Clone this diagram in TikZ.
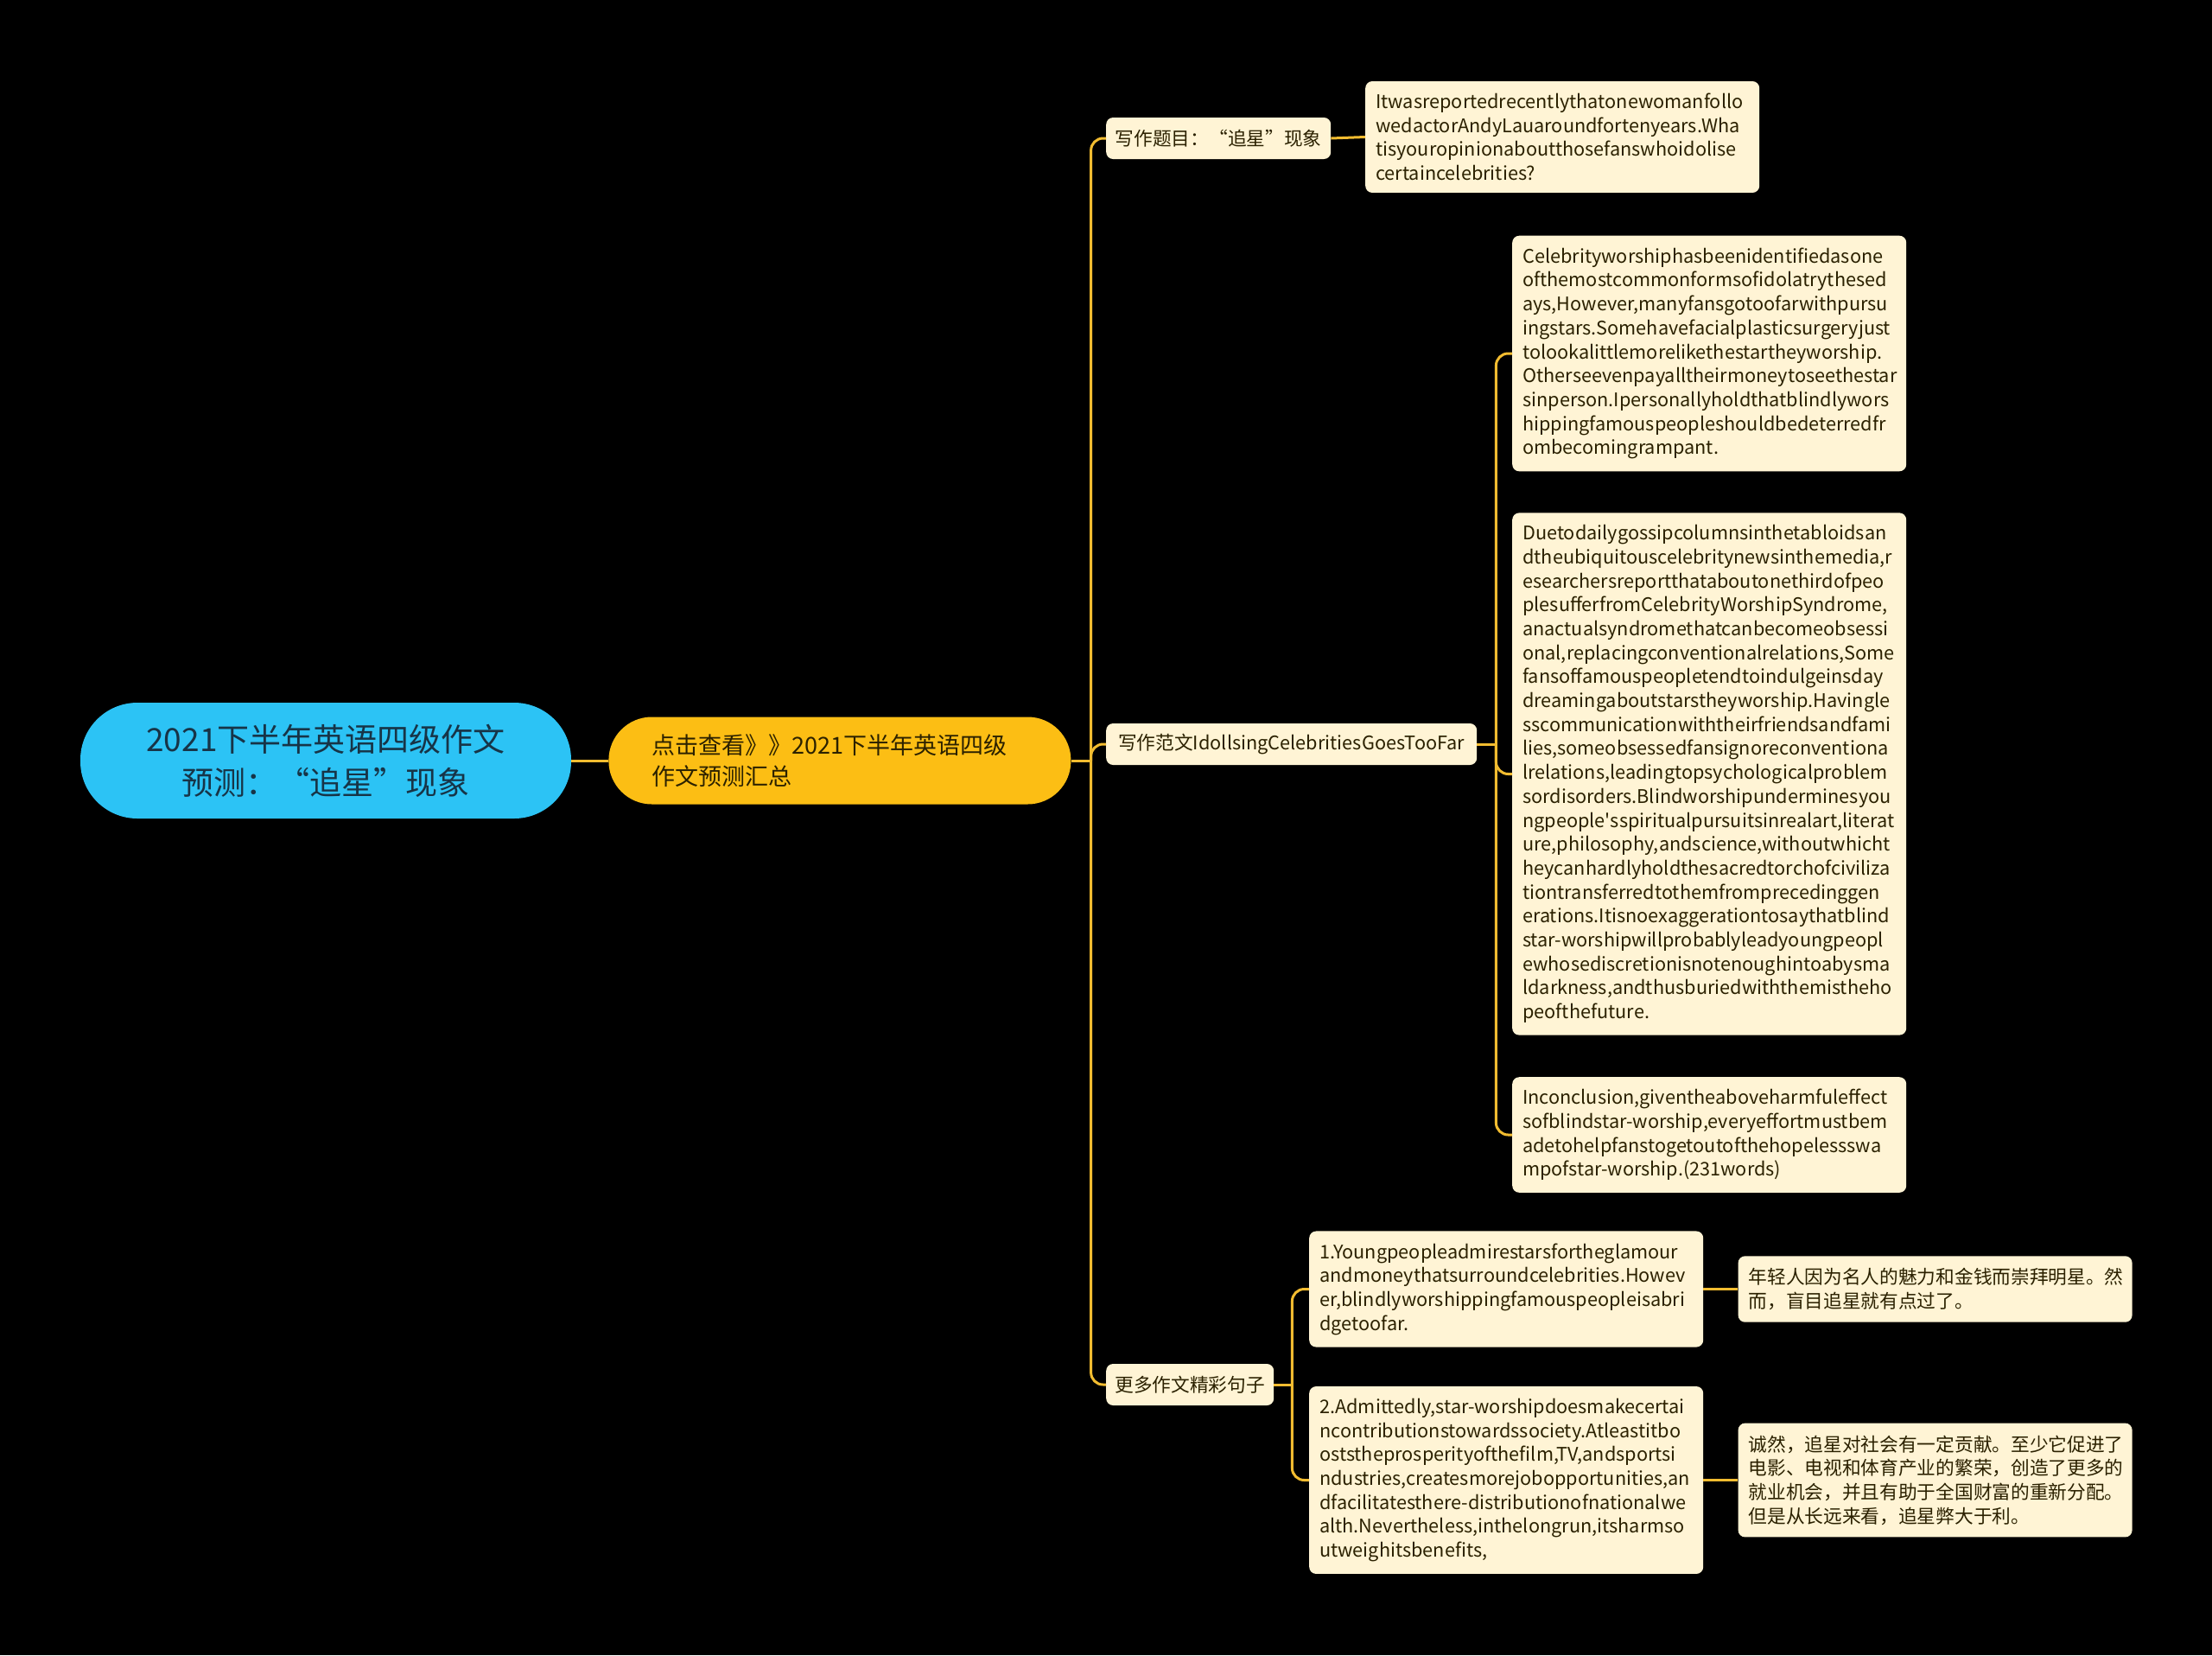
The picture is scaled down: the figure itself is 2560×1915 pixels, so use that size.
\documentclass[tikz,border=0pt]{standalone}
\usepackage{fontspec}
\setmainfont{Noto Sans CJK SC}
\usetikzlibrary{positioning}
\definecolor{RootCyan}{HTML}{2CC3F5}
\definecolor{HubGold}{HTML}{FCBE14}
\definecolor{LinkGold}{HTML}{F2BC30}
\definecolor{NoteCream}{HTML}{FFF4D5}
\definecolor{InkBrown}{HTML}{2B2100}
\definecolor{RootInk}{HTML}{173447}
\newcommand{\notefont}{\fontsize{21.7}{27.7}\selectfont}
\newcommand{\rootfont}{\fontsize{37}{50}\selectfont}
\newcommand{\hubfont}{\fontsize{27}{36}\selectfont}

\begin{document}
\begin{tikzpicture}[
      x=1pt, y=-1pt,
      every node/.style={font=\notefont, text=InkBrown},
      rootbox/.style={fill=RootCyan, rounded corners=66pt, minimum width=568pt, minimum height=134pt, align=center, font=\rootfont, text=RootInk},
      hubbox/.style={fill=HubGold, rounded corners=50pt, text width=435pt, inner xsep=50pt, minimum height=101pt, align=left, font=\hubfont},
      topicbox/.style={fill=NoteCream, rounded corners=8pt, minimum height=48pt, inner xsep=9pt, anchor=west},
      notebox/.style={fill=NoteCream, rounded corners=8pt, text width=432pt, inner xsep=12pt, inner ysep=14pt, align=left, anchor=west},
      link/.style={draw=LinkGold, line width=3pt, rounded corners=14pt}
    ]
      \fill[black] (0,0) rectangle (2560,1915);
      \useasboundingbox (0,0) rectangle (2560,1915);

      \node[rootbox] (root) at (377,880) {2021下半年英语四级作文\\预测：“追星”现象};
      \node[hubbox, right=43pt of root] (hub) {点击查看》》2021下半年英语四级\\作文预测汇总};

      \node[topicbox, minimum width=260pt] (topic) at (1280,160) {写作题目：“追星”现象};
      \node[topicbox, minimum width=429pt] (sample) at (1280,861) {写作范文IdollsingCelebritiesGoesTooFar};
      \node[topicbox, minimum width=194pt] (more) at (1280,1602) {更多作文精彩句子};

      \node[notebox] (question) at (1580,158.5) {Itwasreportedrecentlythatonewomanfollo\\wedactorAndyLauaroundfortenyears.Wha\\tisyouropinionaboutthosefanswhoidolise\\certaincelebrities?};

      \node[notebox] (para1) at (1750,409) {Celebrityworshiphasbeenidentifiedasone\\ofthemostcommonformsofidolatrythesed\\ays,However,manyfansgotoofarwithpursu\\ingstars.Somehavefacialplasticsurgeryjust\\tolookalittlemorelikethestartheyworship.\\Otherseevenpayalltheirmoneytoseethestar\\sinperson.Ipersonallyholdthatblindlywors\\hippingfamouspeopleshouldbedeterredfr\\ombecomingrampant.};
      \node[notebox] (para2) at (1750,895.5) {Duetodailygossipcolumnsinthetabloidsan\\dtheubiquitouscelebritynewsinthemedia,r\\esearchersreportthataboutonethirdofpeo\\plesufferfromCelebrityWorshipSyndrome,\\anactualsyndromethatcanbecomeobsessi\\onal,replacingconventionalrelations,Some\\fansoffamouspeopletendtoindulgeinsday\\dreamingaboutstarstheyworship.Havingle\\sscommunicationwiththeirfriendsandfami\\lies,someobsessedfansignoreconventiona\\lrelations,leadingtopsychologicalproblem\\sordisorders.Blindworshipunderminesyou\\ngpeople\textquotesingle sspiritualpursuitsinrealart,literat\\ure,philosophy,andscience,withoutwhicht\\heycanhardlyholdthesacredtorchofciviliza\\tiontransferredtothemfromprecedinggen\\erations.Itisnoexaggerationtosaythatblind\\star-worshipwillprobablyleadyoungpeopl\\ewhosediscretionisnotenoughintoabysma\\ldarkness,andthusburiedwiththemistheho\\peofthefuture.};
      \node[notebox] (para3) at (1750,1313) {Inconclusion,giventheaboveharmfuleffect\\sofblindstar-worship,everyeffortmustbem\\adetohelpfanstogetoutofthehopelessswa\\mpofstar-worship.(231words)};

      \node[notebox] (sent1) at (1515,1491.5) {1.Youngpeopleadmirestarsfortheglamour\\andmoneythatsurroundcelebrities.Howev\\er,blindlyworshippingfamouspeopleisabri\\dgetoofar.};
      \node[notebox] (sent2) at (1515,1712.5) {2.Admittedly,star-worshipdoesmakecertai\\ncontributionstowardssociety.Atleastitbo\\oststheprosperityofthefilm,TV,andsportsi\\ndustries,createsmorejobopportunities,an\\dfacilitatesthere-distributionofnationalwe\\alth.Nevertheless,inthelongrun,itsharmso\\utweighitsbenefits,};
      \node[notebox, right=40pt of sent1] (trans1) {年轻人因为名人的魅力和金钱而崇拜明星。然\\而，盲目追星就有点过了。};
      \node[notebox, right=40pt of sent2] (trans2) {诚然，追星对社会有一定贡献。至少它促进了\\电影、电视和体育产业的繁荣，创造了更多的\\就业机会，并且有助于全国财富的重新分配。\\但是从长远来看，追星弊大于利。};

      % connectors
      \draw[link] (root.east) -- (hub.west);
      \coordinate[right=23pt of hub.east] (hubfork);
      \draw[link] (hub.east) -- (hubfork);
      \draw[link] (hubfork) |- (topic.west);
      \draw[link] (hubfork) |- (sample.west);
      \draw[link] (hubfork) |- (more.west);

      \draw[link] (topic.east) -- (question.west);

      \coordinate[right=22pt of sample.east] (samplefork);
      \draw[link] (sample.east) -- (samplefork);
      \draw[link] (samplefork) |- (para1.west);
      \draw[link] (samplefork) |- (para2.west);
      \draw[link] (samplefork) |- (para3.west);

      \coordinate[right=21pt of more.east] (morefork);
      \draw[link] (more.east) -- (morefork);
      \draw[link] (morefork) |- (sent1.west);
      \draw[link] (morefork) |- (sent2.west);

      \draw[link] (sent1.east) -- (trans1.west);
      \draw[link] (sent2.east) -- (trans2.west);

    \end{tikzpicture}
\end{document}
